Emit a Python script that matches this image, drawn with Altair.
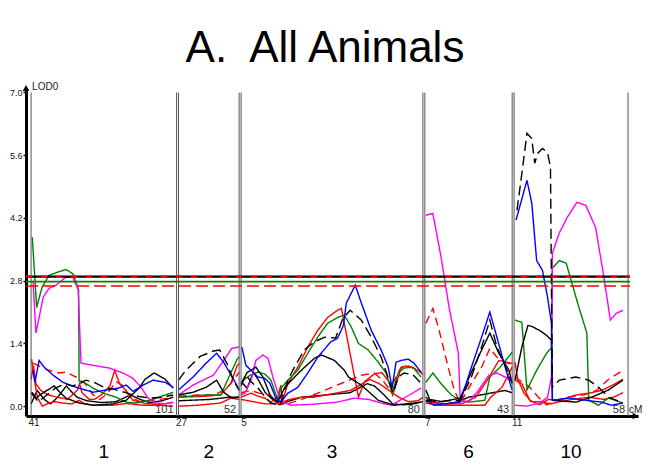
import altair as alt
import pandas as pd

# ---------------- data ----------------
CHROMS = ["1", "2", "3", "6", "10"]
CHR_START_CM = [41, 27, 5, 7, 11]
CHR_END_CM = [101, 52, 80, 43, 58]
GAP = 0.8

THRESH_LOD = [2.89, 2.78, 2.68]

black = {
    "1": ([41.4, 43.0, 46.0, 50.5, 53.0, 55.4, 60.8, 66.6, 74.8, 80.2, 85.5, 88.0, 91.7, 96.3, 99.6],
          [0.31, 0.18, 0.30, 0.45, 0.30, 0.18, 0.07, 0.02, 0.05, 0.13, 0.40, 0.60, 0.74, 0.60, 0.40]),
    "2": ([27, 33, 38.4, 42.7, 45.6, 49, 52], [0.25, 0.31, 0.42, 0.58, 0.31, 0.18, 0.2]),
    "3": ([5, 7.5, 11.1, 14, 17.3, 20.2, 23, 27.1, 31.2, 35.3, 38.2, 43.5, 47.6, 49.3, 54.6, 61.6, 68.1, 76.3, 79.2],
          [0.5, 0.75, 0.87, 0.65, 0.2, 0.1, 0.42, 0.65, 0.87, 1.07, 1.14, 1.02, 0.8, 0.65, 0.47, 0.13, 0.02, 0.07, 0.09]),
    "6": ([7.4, 9, 14, 21.6, 26.2, 30.4, 33.8, 37.5, 41.7, 43],
          [0.36, 0.15, 0.1, 0.18, 0.76, 1.25, 1.63, 1.18, 0.8, 0.51]),
    "10": ([11.4, 14.2, 16.7, 18.3, 21.5, 24.4, 26.4, 26.8, 36.5, 43.0, 49.9, 55.9],
           [0.58, 1.32, 1.8, 1.78, 1.69, 1.58, 1.47, 0.13, 0.09, 0.2, 0.36, 0.58]),
}

black2 = {
    "1": ([41.0, 43.5, 46.5, 49.0, 52.0, 55.5, 58.0, 60.0, 64.0, 70.0, 76.0, 82.0, 86.0, 90.0, 95.0, 99.6],
          [0.05, 0.35, 0.15, 0.05, 0.20, 0.45, 0.30, 0.20, 0.12, 0.08, 0.10, 0.25, 0.15, 0.08, 0.12, 0.20]),
    "2": ([27, 40, 48, 52], [0.12, 0.15, 0.2, 0.2]),
    "3": ([5, 7.5, 10, 12, 15, 18, 21, 24, 30, 40, 50, 57, 60, 64, 67.5, 72, 76, 80],
          [0.55, 0.4, 0.75, 0.6, 0.3, 0.15, 0.03, 0.1, 0.2, 0.25, 0.3, 0.5, 0.45, 0.25, 0.05, 0.03, 0.05, 0.1]),
    "6": ([7.4, 10, 16, 21, 25, 30, 35, 40, 43], [0.2, 0.08, 0.05, 0.1, 0.2, 0.25, 0.3, 0.35, 0.3]),
}

black_dash = {
    "1": ([41, 44, 47.5, 51, 55, 58, 61, 63.5, 67, 71, 75, 80, 85, 90, 95, 99.6],
          [0.3, 0.1, 0.25, 0.4, 0.5, 0.45, 0.5, 0.58, 0.53, 0.42, 0.38, 0.3, 0.22, 0.18, 0.2, 0.25]),
    "2": ([27, 30, 35.9, 41.4, 44, 47, 49.5, 52], [0.58, 0.8, 1.11, 1.23, 1.25, 0.95, 0.6, 0.35]),
    "3": ([5, 7, 9, 12, 15, 17.3, 21, 24.3, 27, 31, 35, 39.5, 44, 47, 50, 54.6, 58.7, 62.8, 66, 67.7, 69.8, 72.2, 75.9, 79.2],
          [0.45, 0.7, 0.55, 0.4, 0.2, 0.07, 0.03, 0.58, 0.87, 1.25, 1.43, 1.54, 1.52, 1.96, 2.14, 1.92, 1.54, 1.09, 0.58, 0.29, 0.65, 0.74, 0.7, 0.51]),
    "6": ([7.4, 12, 17, 21.6, 26.2, 30.4, 33.8, 36.7, 40.1, 43],
          [0.13, 0.1, 0.12, 0.13, 0.65, 1.32, 1.92, 1.32, 0.9, 0.51]),
    "10": ([12.2, 14.2, 16.3, 18.3, 19.5, 20.7, 22.7, 24.8, 26.0, 26.4, 26.8, 29.6, 36.5, 41.8, 45.8, 49.9, 55.1],
           [4.37, 5.19, 6.09, 5.97, 5.42, 5.64, 5.75, 5.66, 5.33, 2.65, 0.42, 0.58, 0.65, 0.58, 0.42, 0.2, 0.09]),
}

blue = {
    "1": ([41.8, 42.6, 44.3, 46.4, 50.1, 54.2, 59.6, 66.6, 71.9, 76.9, 80.2, 83.1, 87.2, 91.3, 96.4, 99.6],
          [0.8, 0.53, 1.02, 0.87, 0.69, 0.53, 0.42, 0.31, 0.36, 0.4, 0.47, 0.33, 0.47, 0.58, 0.53, 0.42]),
    "2": ([27, 33, 38.4, 42.7, 45.6, 49.9, 52], [0.36, 0.65, 0.96, 1.18, 0.98, 0.58, 0.36]),
    "3": ([5.3, 7.0, 9.1, 12.0, 14.8, 16.9, 19.3, 21.4, 24.3, 28.4, 32.5, 36.6, 41.9, 44.8, 47.2, 48.4, 52.1, 54.6,
           58.7, 62.8, 65.7, 67.3, 68.9, 71.0, 73.9, 76.3, 79.2],
          [1.32, 0.91, 0.8, 0.65, 0.62, 0.51, 0.18, 0.09, 0.29, 0.42, 0.74, 1.09, 1.43, 1.52, 1.8, 2.3, 2.7, 2.3,
           1.69, 1.25, 0.87, 0.4, 0.98, 1.02, 1.05, 0.96, 0.76]),
    "6": ([7.4, 10.7, 15, 21.6, 26.2, 30.4, 33.8, 36.7, 40.1, 43.0],
          [0.13, 0.02, 0.05, 0.09, 0.87, 1.54, 2.1, 1.54, 0.87, 0.36]),
    "10": ([11.8, 16.3, 18.3, 20.3, 22.7, 24.8, 26.4, 26.8, 33.7, 40.6, 47.0, 51.1, 55.9],
           [4.15, 5.04, 4.53, 3.25, 3.03, 2.43, 1.85, 0.13, 0.18, 0.13, 0.09, 0.02, 0.07]),
}

green = {
    "1": ([41.5, 43.3, 45.5, 48.4, 52.5, 55.4, 58.3, 60.6, 60.8, 62.9, 66.6, 70.7, 76.0, 80.2, 84.3, 89.7, 93.8, 99.6],
          [3.77, 2.2, 2.65, 2.92, 3.0, 3.05, 2.95, 2.6, 0.56, 0.53, 0.4, 0.29, 0.2, 0.09, 0.07, 0.13, 0.2, 0.31]),
    "2": ([27, 38.4, 44.4, 47.8, 51.2, 52], [0.2, 0.25, 0.25, 0.65, 1.05, 1.1]),
    "3": ([5.8, 9.1, 12, 14.8, 17.3, 20.2, 21.4, 24.3, 28.4, 32.5, 36.6, 40.7, 44.8, 47.6, 50.5, 53.4, 57.5, 61.6,
           64.8, 67.3, 69.8, 72.2, 75.9, 79.2],
          [0.58, 0.7, 0.76, 0.72, 0.58, 0.13, 0.4, 0.58, 0.8, 1.18, 1.54, 1.85, 1.98, 2.03, 1.76, 1.4, 1.25, 0.98,
           0.74, 0.29, 0.74, 0.85, 0.87, 0.65]),
    "6": ([7.4, 10.3, 13.7, 17.9, 21.6, 25.0, 31.7, 33.8, 38.0, 43.0],
          [0.53, 0.74, 0.5, 0.25, 0.13, 0.09, 0.13, 0.65, 0.87, 1.2]),
    "10": ([11.4, 14.2, 16.3, 20.3, 24.4, 26.4, 26.8, 29.6, 32.5, 34.5, 37.7, 41.0, 41.8, 45.8, 49.9, 55.9],
           [1.92, 1.87, 0.36, 0.8, 1.18, 1.3, 3.08, 3.25, 3.19, 2.81, 2.21, 1.63, 0.13, 0.02, 0.18, 0.07]),
}

magenta = {
    "1": ([41.8, 43.0, 46.0, 48.4, 51.3, 55.4, 58.3, 60.4, 61.6, 66.6, 73.2, 78.9, 83.0, 86.4, 89.2, 92.5, 96.7, 99.6],
          [2.8, 1.63, 2.43, 2.63, 2.7, 2.88, 2.87, 2.6, 0.96, 0.91, 0.85, 0.74, 0.62, 0.42, 0.18, 0.07, 0.05, 0.09]),
    "2": ([27, 33, 41.4, 45.6, 49, 52], [0.25, 0.47, 0.69, 1.02, 1.29, 1.32]),
    "3": ([5, 6.6, 9.1, 11.1, 14, 16.1, 18.1, 20.2, 22.2, 25.5, 34.1, 44.8, 51.7, 57.5, 62.8, 66.9, 72.2, 79.2],
          [0.25, 0.29, 0.58, 1.02, 1.14, 1.07, 0.65, 0.29, 0.09, 0.02, 0.04, 0.09, 0.18, 0.15, 0.07, 0.02, 0.18, 0.4]),
    "6": ([7.4, 10.3, 13.7, 17.0, 20.8, 21.6, 25.0, 29.2, 33.4, 36.7, 40.1, 43.0],
          [4.26, 4.3, 3.32, 2.2, 1.18, 0.13, 0.09, 0.36, 0.69, 0.74, 0.65, 0.55]),
    "10": ([11.4, 16.3, 21.5, 24.8, 26.4, 26.8, 29.6, 32.9, 36.9, 40.6, 44.6, 47.8, 50.7, 53.1, 55.9],
           [0.02, 0.0, 0.07, 0.2, 0.65, 3.41, 3.86, 4.21, 4.55, 4.48, 3.99, 2.96, 1.92, 2.07, 2.14]),
}

red = {
    "1": ([41.2, 42.0, 42.8, 43.6, 45.6, 48.4, 51.0, 53.7, 57.9, 60.8, 62.9, 66.6, 74.8, 80.2, 87.2, 93.8, 99.6],
          [1.05, 0.75, 0.45, 0.2, 0.0, 0.07, 0.1, 0.07, 0.05, 0.13, 0.06, 0.02, 0.02, 0.06, 0.02, 0.02, 0.0]),
    "2": ([27, 35, 44.4, 48.6, 52], [0.0, 0.02, 0.07, 0.18, 0.15]),
    "3": ([5, 9.1, 12, 14.8, 17.2, 20.1, 21.4, 22.0, 24.3, 28.4, 32.5, 36.6, 40.7, 44.8, 46.4, 53.4, 56, 60, 63,
           66, 67.5, 69, 71, 73, 76, 79.5],
          [0.2, 0.29, 0.22, 0.18, 0.09, 0.2, 0.47, 0.1, 0.51, 0.87, 1.32, 1.69, 1.98, 2.14, 2.18, 0.2, 0.55, 0.72, 0.75,
           0.55, 0.25, 0.5, 0.85, 0.9, 0.85, 0.75]),
    "6": ([7.4, 12, 20, 31.7, 34.2, 38.8, 43], [0.07, 0.02, 0.02, 0.02, 0.2, 0.42, 0.87]),
    "10": ([11.4, 14.2, 17.5, 21.5, 25, 29.6, 36.5, 43, 47, 51, 55.9],
           [0.58, 0.5, 0.13, 0.03, 0.15, 0.13, 0.25, 0.3, 0.35, 0.45, 0.6]),
}

red2 = {
    "1": ([41, 42, 43, 45, 48, 52, 56, 60, 61, 62, 65, 67, 70, 73.5, 75.5, 77.5, 80, 83, 88, 94, 99.6],
          [0.6, 0.9, 0.5, 0.35, 0.25, 0.2, 0.15, 0.35, 0.5, 0.3, 0.15, 0.15, 0.25, 0.45, 0.8, 0.5, 0.35, 0.13, 0.06,
           0.04, 0.08]),
    "2": ([27, 38, 44.4, 48.6, 51.2, 52], [0.2, 0.22, 0.25, 0.51, 0.91, 0.95]),
    "3": ([5, 10, 15, 20, 25, 30, 35, 40, 45, 50, 55, 58, 62, 66, 70, 74, 78, 80],
          [0.15, 0.1, 0.05, 0.05, 0.15, 0.2, 0.2, 0.25, 0.3, 0.35, 0.5, 0.6, 0.5, 0.35, 0.2, 0.1, 0.12, 0.2]),
    "6": ([7.4, 15, 22, 28, 33, 37.5, 43], [0.1, 0.05, 0.05, 0.2, 0.6, 1.02, 0.95]),
    "10": ([11.4, 12.5, 15, 18, 22, 26, 30, 35, 42, 48, 52, 55.9],
           [0.98, 0.6, 0.3, 0.1, 0.1, 0.05, 0.1, 0.15, 0.2, 0.15, 0.2, 0.3]),
}

red_dash = {
    "1": ([41.8, 45.1, 48.4, 52.5, 55.4, 59.6, 63.3, 66.6, 69.5, 72.8, 76.0, 79.0, 81.8, 86.0, 90.0, 94.2, 99.6],
          [0.96, 0.87, 0.8, 0.74, 0.76, 0.65, 0.5, 0.25, 0.15, 0.3, 0.55, 0.45, 0.2, 0.1, 0.12, 0.15, 0.2]),
    "2": ([27, 35, 42, 47, 52], [0.22, 0.25, 0.25, 0.4, 0.75]),
    "3": ([5, 9, 13, 17, 20, 23, 30, 38, 46, 54.6, 59.9, 63, 65.7, 68, 71, 74, 78, 80],
          [0.3, 0.35, 0.28, 0.25, 0.08, 0.03, 0.15, 0.32, 0.5, 0.69, 0.74, 0.6, 0.42, 0.55, 0.87, 0.9, 0.8, 0.7]),
    "6": ([7.4, 10.3, 12.9, 16.6, 19.1, 21.6, 26.2, 30.4, 33.8, 36.7, 40.1, 43.0],
          [1.85, 2.18, 1.69, 0.87, 0.36, 0.07, 0.51, 0.87, 1.29, 1.09, 0.98, 0.92]),
    "10": ([11.4, 14, 17, 21, 24.5, 28, 33, 40, 45, 50, 53.9, 55.9],
           [0.65, 0.55, 0.45, 0.2, 0.03, 0.12, 0.2, 0.25, 0.35, 0.6, 0.73, 0.8]),
}

SERIES = {
    "black2": black2, "red2": red2, "red": red, "red_dash": red_dash, "green": green,
    "magenta": magenta, "black": black, "blue": blue, "black_dash": black_dash,
}
SERIES_COLOR = ["#000000", "#FF0000", "#FF0000", "#FF0000", "#008000",
                "#FF00FF", "#000000", "#0000FF", "#000000"]
SERIES_DASH = [[1, 0], [1, 0], [1, 0], [8, 5], [1, 0], [1, 0], [1, 0], [1, 0], [10, 5]]

# ---------------- derived positions (global map coordinate) ----------------
starts_g = []
g = 0.0
for s, e in zip(CHR_START_CM, CHR_END_CM):
    starts_g.append(g)
    g += (e - s) + GAP
offsets = [sg - s for sg, s in zip(starts_g, CHR_START_CM)]
ends_g = [e + o for e, o in zip(CHR_END_CM, offsets)]
XMIN = -2.1
XMAX = ends_g[-1] + 4.1
YMIN, YMAX = -0.22, 7.1

rows = []
for name, data in SERIES.items():
    for ci, ch in enumerate(CHROMS):
        if ch not in data:
            continue
        cms, lods = data[ch]
        for k, (c, l) in enumerate(zip(cms, lods)):
            rows.append({"series": name, "seg": f"{name}_{ch}", "G": c + offsets[ci], "lod": l, "idx": k})
df = pd.DataFrame(rows)

bounds = pd.DataFrame({"G": starts_g + ends_g})
start_lbl = pd.DataFrame({"G": starts_g, "t": [str(v) for v in CHR_START_CM]})
end_lbl = pd.DataFrame({"G": ends_g, "t": [str(v) for v in CHR_END_CM]})
chr_lbl = pd.DataFrame({"G": [(a + b) / 2 for a, b in zip(starts_g, ends_g)], "t": CHROMS})

FONT = "Liberation Sans"
xs = alt.Scale(domain=[XMIN, XMAX], nice=False, zero=False)
ys = alt.Scale(domain=[YMIN, YMAX], nice=False, zero=False)

lines = alt.Chart(df).mark_line(strokeWidth=1.4).encode(
    x=alt.X("G:Q", scale=xs, title=None,
            axis=alt.Axis(labels=False, ticks=False, grid=False, domainWidth=3, domainColor="black")),
    y=alt.Y("lod:Q", scale=ys, title=None,
            axis=alt.Axis(values=[0, 1.4, 2.8, 4.2, 5.6, 7.0], format=".1f", grid=False,
                          domainWidth=3, domainColor="black", tickColor="black", tickWidth=1.5,
                          tickSize=3, labelFontSize=9, labelFont=FONT, labelColor="#111",
                          labelPadding=1)),
    color=alt.Color("series:N", scale=alt.Scale(domain=list(SERIES.keys()), range=SERIES_COLOR), legend=None),
    strokeDash=alt.StrokeDash("series:N", scale=alt.Scale(domain=list(SERIES.keys()), range=SERIES_DASH),
                              legend=None),
    detail="seg:N",
    order="idx:Q",
)

vrules = alt.Chart(bounds).mark_rule(color="#555555", strokeWidth=1).encode(
    x=alt.X("G:Q", title=None), y=alt.datum(YMIN), y2=alt.datum(7.0)
)

def hline(lod, color, width, dash=None):
    kw = dict(color=color, strokeWidth=width)
    if dash:
        kw["strokeDash"] = dash
    return alt.Chart(pd.DataFrame({"lod": [lod]})).mark_rule(**kw).encode(
        x=alt.datum(XMIN), x2=alt.datum(ends_g[-1] + 0.8), y=alt.Y("lod:Q", title=None)
    )

thr = [
    hline(THRESH_LOD[0], "black", 2.2),
    hline(THRESH_LOD[0], "#FF0000", 2.2, [6, 9]),
    hline(THRESH_LOD[1], "#008000", 1.8),
    hline(THRESH_LOD[2], "#FF0000", 1.6, [12, 5]),
]

t_start = alt.Chart(start_lbl).mark_text(fontSize=10, font=FONT, dx=3, baseline="middle", color="#222").encode(
    x=alt.X("G:Q", title=None), y=alt.datum(-0.38), text="t:N")
t_end = alt.Chart(end_lbl).mark_text(fontSize=11, font=FONT, dx=-3, align="right", baseline="middle",
                                     color="#333").encode(
    x=alt.X("G:Q", title=None), y=alt.datum(-0.09), text="t:N")
t_chr = alt.Chart(chr_lbl).mark_text(fontSize=19, font=FONT, baseline="alphabetic", color="black").encode(
    x=alt.X("G:Q", title=None), y=alt.datum(-1.16), text="t:N")
t_lod = alt.Chart(pd.DataFrame({"t": ["LOD0"]})).mark_text(
    fontSize=10, font=FONT, align="left", baseline="middle", dx=1, color="#222").encode(
    x=alt.datum(0.0), y=alt.datum(7.12), text="t:N")
t_cm = alt.Chart(pd.DataFrame({"t": ["cM"]})).mark_text(
    fontSize=10, font=FONT, align="left", baseline="middle", dx=1, color="#222").encode(
    x=alt.datum(ends_g[-1]), y=alt.datum(-0.09), text="t:N")
t_title = alt.Chart(pd.DataFrame({"t": ["A.\u00a0 All Animals"]})).mark_text(
    fontSize=44, font=FONT, align="center", baseline="alphabetic", color="black").encode(
    x=alt.value(299), y=alt.value(-26), text="t:N")

arrow_up = alt.Chart(pd.DataFrame({"a": [1]})).mark_point(
    shape="triangle-up", filled=True, size=45, color="black", opacity=1).encode(
    x=alt.datum(XMIN), y=alt.datum(YMAX))
arrow_right = alt.Chart(pd.DataFrame({"a": [1]})).mark_point(
    shape="triangle-right", filled=True, size=45, color="black", opacity=1).encode(
    x=alt.datum(XMAX - 1.0), y=alt.datum(YMIN))

chart = alt.layer(
    lines, vrules, *thr, t_start, t_end, t_chr, t_lod, t_cm, t_title, arrow_up, arrow_right
).properties(
    width=612, height=328,
    autosize=alt.AutoSizeParams(type="none"),
    padding={"left": 18, "top": 80, "right": 4, "bottom": 48},
).configure_view(stroke=None)

chart.save("out.html", embed_options={"renderer": "svg", "actions": False})
